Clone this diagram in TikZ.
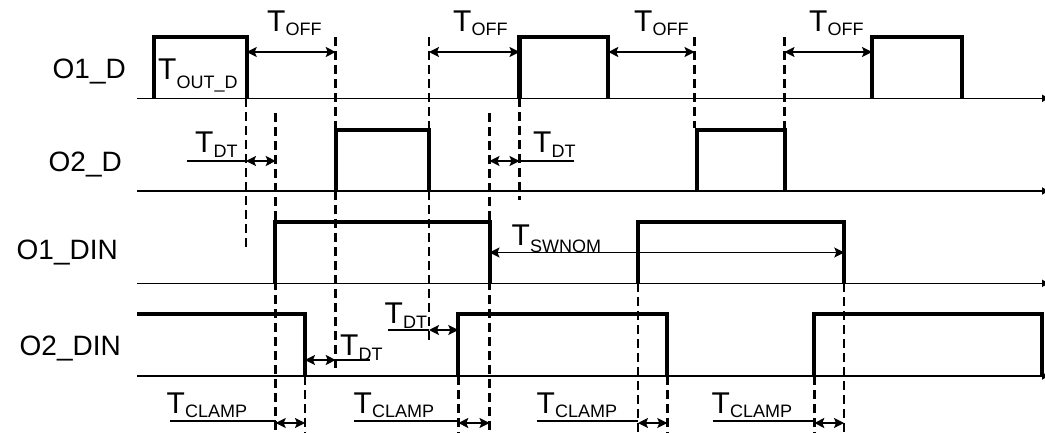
\documentclass[tikz,border=0pt]{standalone}
\usepackage{fontspec}
\setmainfont{Liberation Sans}
\usetikzlibrary{arrows.meta}
\newcommand\Tsub[2][4]{{\fontsize{30}{30}\selectfont T}\raisebox{-#1pt}{\fontsize{18}{18}\selectfont #2}}
\begin{document}
\begin{tikzpicture}[x=1pt,y=-1pt,
  axis/.style={line width=1.5pt,-{Latex[length=8pt,width=8pt]}},
  sig/.style={line width=4.3pt,line join=miter},
  guide/.style={line width=2.9pt,dash pattern=on 9pt off 5pt},
  dim/.style={line width=1.4pt,{Stealth[length=10pt,width=10pt,inset=2pt]}-{Stealth[length=10pt,width=10pt,inset=2pt]}},
  uline/.style={line width=1.4pt},
  lbl/.style={font=\fontsize{28}{30}\selectfont,inner sep=0pt,anchor=base west},
  sname/.style={font=\fontsize{28}{30}\selectfont,inner sep=0pt,anchor=base east}]
\useasboundingbox (0,0) rectangle (1045,433);

% signal names
\node[sname] (n1) at (126,79) {O1\_D};
\node[sname] (n2) at (122,172) {O2\_D};
\node[sname] (n3) at (118,259) {O1\_DIN};
\node[sname] (n4) at (121,355) {O2\_DIN};

% axes
\draw[axis] (137,98.3) -- (1050,98.3);
\draw[axis] (137,191) -- (1050,191);
\draw[axis] (137,283.3) -- (1050,283.3);
\draw[axis] (137,376) -- (1050,376);

% dashed guides
\draw[guide] (246,98.3) -- (246,248);
\draw[guide] (275.7,113) -- (275.7,433);
\draw[guide] (335.7,37) -- (335.7,368);
\draw[guide] (429,37) -- (429,340);
\draw[guide] (489.5,113) -- (489.5,433);
\draw[guide] (519.5,98.3) -- (519.5,200);
\draw[guide] (694.5,37) -- (694.5,128);
\draw[guide] (784.5,37) -- (784.5,128);
\draw[guide] (305,376) -- (305,433);
\draw[guide] (458.3,376) -- (458.3,433);
\draw[guide] (638,283.3) -- (638,433);
\draw[guide] (667.3,376) -- (667.3,433);
\draw[guide] (814.3,376) -- (814.3,433);
\draw[guide] (844,283.3) -- (844,433);

% O1_D
\draw[sig] (154.3,98.3) |- (246.7,37) -- (246.7,98.3);
\draw[sig] (519.5,98.3) |- (608.3,37) -- (608.3,98.3);
\draw[sig] (872,98.3) |- (961.7,37) -- (961.7,98.3);
% O2_D
\draw[sig] (335.7,191) |- (429,130) -- (429,191);
\draw[sig] (696.7,191) |- (785,130) -- (785,191);
% O1_DIN
\draw[sig] (275.3,283.3) |- (490,222) -- (490,283.3);
\draw[sig] (637.7,283.3) |- (844.3,222) -- (844.3,283.3);
% O2_DIN
\draw[sig] (137,314.3) -| (305,376);
\draw[sig] (458.3,376) |- (667.3,314.3) -- (667.3,376);
\draw[sig] (814.3,376) |- (1042,314.3) -- (1042,376);

% T_OFF
\coordinate (a1) at (246.7,52); \coordinate (b1) at (335.7,52);
\coordinate (a2) at (429,52);   \coordinate (b2) at (519.5,52);
\coordinate (a3) at (608.3,52); \coordinate (b3) at (694.5,52);
\coordinate (a4) at (784.5,52); \coordinate (b4) at (872,52);
\draw[dim] (a1) -- (b1);
\draw[dim] (a2) -- (b2);
\draw[dim] (a3) -- (b3);
\draw[dim] (a4) -- (b4);
\node[lbl] (off1) at (267,31.7) {\Tsub[3.5]{OFF}};
\node[lbl] (off2) at (453,31.7) {\Tsub[3.5]{OFF}};
\node[lbl] (off3) at (634,31.7) {\Tsub[3.5]{OFF}};
\node[lbl] (off4) at (809,31.7) {\Tsub[3.5]{OFF}};

% T_OUT_D
\node[lbl] (out) at (158,80) {\Tsub[9]{OUT\_D}};

% T_DT
\coordinate (d1a) at (246,161); \coordinate (d1b) at (275.7,161); \coordinate (d1u) at (187,161);
\draw[dim] (d1a) -- (d1b); \draw[uline] (d1u) -- (d1a);
\node[lbl] (dt1) at (195,153) {\Tsub[5]{DT}};

\coordinate (d2a) at (489.5,161); \coordinate (d2b) at (519.5,161); \coordinate (d2u) at (574,161);
\draw[dim] (d2a) -- (d2b); \draw[uline] (d2b) -- (d2u);
\node[lbl] (dt2) at (533,153) {\Tsub[5]{DT}};

\coordinate (d3a) at (305,360); \coordinate (d3b) at (335.7,360); \coordinate (d3u) at (370,360);
\draw[dim] (d3a) -- (d3b); \draw[uline] (d3b) -- (d3u);
\node[lbl] (dt3) at (340,355) {\Tsub[5]{DT}};

\coordinate (d4a) at (429,330); \coordinate (d4b) at (458.3,330); \coordinate (d4u) at (388,330);
\draw[dim] (d4a) -- (d4b); \draw[uline] (d4u) -- (d4a);
\node[lbl] (dt4) at (384.5,323) {\Tsub[5]{DT}};

% T_SWNOM
\coordinate (s1) at (489.5,252.5); \coordinate (s2) at (844.3,252.5);
\draw[dim] (s1) -- (s2);
\node[lbl] (sw) at (511.5,245) {\Tsub[7]{SWNOM}};

% T_CLAMP
\coordinate (c1a) at (275.7,423); \coordinate (c1b) at (305,423); \coordinate (c1u) at (170,421);
\coordinate (c2a) at (458.3,423); \coordinate (c2b) at (489.5,423); \coordinate (c2u) at (354,421);
\coordinate (c3a) at (638,423);   \coordinate (c3b) at (667.3,423); \coordinate (c3u) at (537,421);
\coordinate (c4a) at (814.3,423); \coordinate (c4b) at (844,423);   \coordinate (c4u) at (713,421);
\foreach \i in {1,2,3,4} {
  \draw[dim] (c\i a) -- (c\i b);
  \draw[uline] (c\i u) -- (c\i u -| c\i a);
}
\node[lbl] (cl1) at (166.5,413) {\Tsub[4]{CLAMP}};
\node[lbl] (cl2) at (353.5,413) {\Tsub[4]{CLAMP}};
\node[lbl] (cl3) at (536.5,413) {\Tsub[4]{CLAMP}};
\node[lbl] (cl4) at (711.5,413) {\Tsub[4]{CLAMP}};
\end{tikzpicture}
\end{document}
